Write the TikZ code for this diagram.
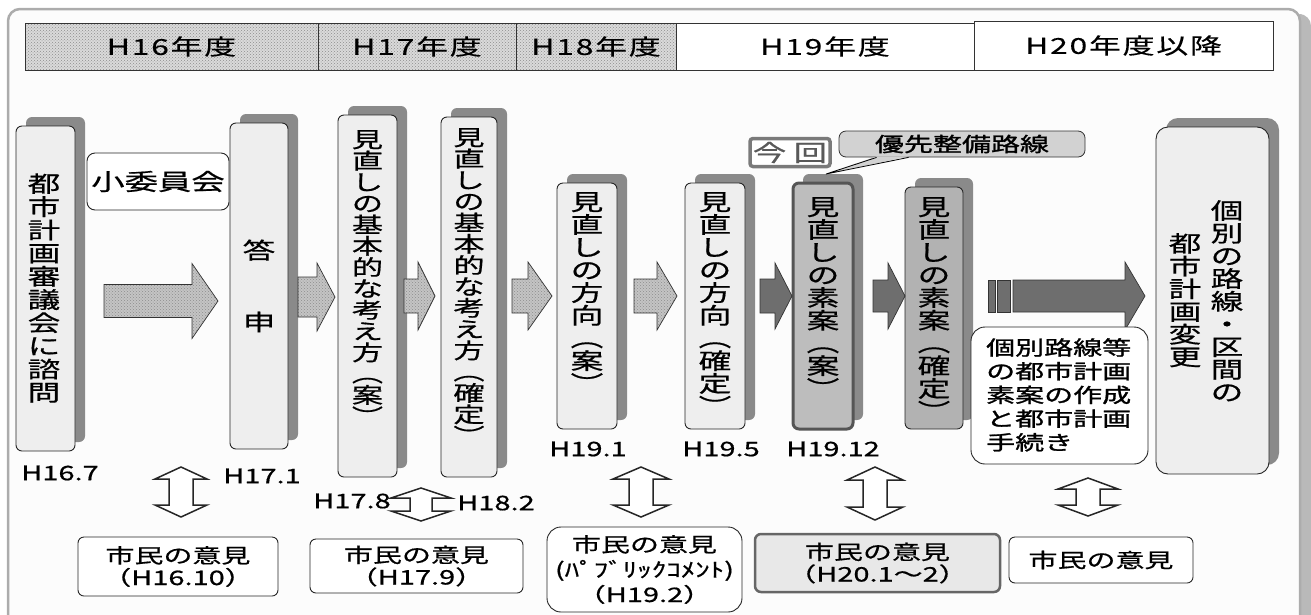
\documentclass[tikz,border=0pt]{standalone}
\usepackage{fontspec}
\usetikzlibrary{shadows,patterns,calc}
\newfontfamily\jp{Noto Sans CJK JP}[FakeStretch=1.45]
\newfontfamily\jpm{Noto Sans CJK JP}[FakeStretch=1.45,FakeBold=0.7]
\newfontfamily\jpb{Noto Sans CJK JP}[FakeStretch=1.45,FakeBold=1.3]
\newfontfamily\jph{Noto Sans CJK JP}[FakeStretch=1.45,LetterSpace=8,FakeBold=0.3]
\definecolor{bgc}{HTML}{FCFCFC}
\definecolor{boxfill}{HTML}{EEEEEE}
\definecolor{shadowc}{HTML}{8A8A8A}
\definecolor{hatchbg}{HTML}{DADADA}
\definecolor{hatchdot}{HTML}{8C8C8C}
\definecolor{darkarrow}{HTML}{6E6E6E}
\definecolor{keygray}{HTML}{BDBDBD}
\definecolor{keyedge}{HTML}{555555}
\definecolor{confgray}{HTML}{B2B2B2}
\definecolor{calloutc}{HTML}{D2D2D2}
\definecolor{opfill}{HTML}{E8E8E8}
\definecolor{opedge}{HTML}{666666}
\definecolor{konkai}{HTML}{7A7A7A}
\newcommand\tightlines{\lineskiplimit=-50pt\lineskip=0pt}
\newcommand\fhead{\jph\fontsize{22}{22}\selectfont}
\newcommand\fvert{\jpm\fontsize{22.5}{22.7}\selectfont\tightlines}
\newcommand\fvertA{\jpm\fontsize{22.5}{23.2}\selectfont\tightlines}
\newcommand\fvsmall{\jpm\fontsize{21.5}{21.3}\selectfont\tightlines}
\newcommand\flbl{\jpm\fontsize{20}{20}\selectfont}
\newcommand\fop{\jpm\fontsize{20}{22}\selectfont\tightlines}
\newcommand\fopw{\jpm\fontsize{20}{25}\selectfont\tightlines}
\newcommand\fproc{\jpb\fontsize{20}{23.7}\selectfont\tightlines}
\newcommand\fbold{\jpb\fontsize{20}{20}\selectfont}
\newcommand\fsub{\jpm\fontsize{23}{23}\selectfont}
\newcommand\barrow[6][]{\draw[#1] ($(#2)+(0,-#4)$) -- ($(#3)+(-#6,-#4)$) -- ($(#3)+(-#6,-#5)$) -- (#3) -- ($(#3)+(-#6,#5)$) -- ($(#3)+(-#6,#4)$) -- ($(#2)+(0,#4)$) -- cycle;}
\newcommand\udarrow[5]{\draw[dastyle] (#1) -- ($(#1)+(#3,#5)$) -- ($(#1)+(#4,#5)$) -- ($(#2)+(#4,-#5)$) -- ($(#2)+(#3,-#5)$) -- (#2) -- ($(#2)+(-#3,-#5)$) -- ($(#2)+(-#4,-#5)$) -- ($(#1)+(-#4,#5)$) -- ($(#1)+(-#3,#5)$) -- cycle;}
\begin{document}
\begin{tikzpicture}[x=1pt,y=-1pt,
  cell/.style={draw=black!80, line width=0.8pt, minimum height=47pt, inner sep=0pt, font=\fhead},
  hcell/.style={cell, preaction={fill=hatchbg}, pattern=crosshatch dots, pattern color=hatchdot},
  tall/.style={draw=black!85, line width=0.9pt, fill=boxfill, rounded corners=6pt, inner sep=0pt,
    drop shadow={shadow xshift=10pt, shadow yshift=9pt, fill=shadowc, opacity=1}},
  vtxt/.style={inner sep=0pt, align=center},
  lbl/.style={inner sep=0pt, font=\flbl},
  op/.style={draw=black!85, line width=0.9pt, fill=white, rounded corners=6pt, inner sep=0pt, align=center, font=\fop},
  hatcharrow/.style={draw=black!80, line width=0.7pt, preaction={fill=hatchbg!90!black}, pattern=crosshatch dots, pattern color=hatchdot},
  darkarrowst/.style={draw=black!80, line width=0.7pt, fill=darkarrow},
  dastyle/.style={draw=black!85, line width=1.5pt, fill=white, line join=miter}
]
\useasboundingbox (0,0) rectangle (1311,614);
% frame
\fill[gray!55, rounded corners=12pt] (1290,14) rectangle (1311,660);
\draw[draw=gray!65, line width=2.5pt, fill=bgc, rounded corners=12pt] (8,9) rectangle (1300,660);
% header
\node[hcell, minimum width=293pt] (h16) at (171.5,46.5) {H16年度};
\node[hcell, minimum width=198pt] (h17) at (417,46.5) {H17年度};
\node[hcell, minimum width=160pt] (h18) at (596,46.5) {H18年度};
\node[cell, fill=white, minimum width=298pt] (h19) at (825,46.5) {H19年度};
\node[cell, fill=white, minimum width=299pt, minimum height=49pt] (h20) at (1123.5,45.5) {H20年度以降};
% tall boxes
\node[tall, minimum width=59pt, minimum height=325pt] (b1) at (45.5,288.5) {};
\node[tall, minimum width=58pt, minimum height=326pt] (b2) at (259,286) {};
\node[tall, minimum width=59pt, minimum height=362pt] (b3) at (367.5,296) {};
\node[tall, minimum width=56pt, minimum height=360pt] (b4) at (469,297) {};
\node[tall, minimum width=60pt, minimum height=246pt] (b5) at (587,306) {};
\node[tall, minimum width=60pt, minimum height=246pt] (b6) at (715,306) {};
\node[tall, fill=keygray, draw=keyedge, line width=3pt, minimum width=60pt, minimum height=246pt] (b7) at (823,306) {};
\node[tall, fill=confgray, minimum width=58pt, minimum height=242pt] (b8) at (934,308) {};
\node[tall, minimum width=113pt, minimum height=347pt, rounded corners=12pt] (b9) at (1212.5,300.5) {};
% texts in tall boxes
\node[vtxt, font=\fvertA] (t1) at (44,288) {都\\市\\計\\画\\審\\議\\会\\に\\諮\\問};
\node[vtxt, font=\fvert] (t2) at (259,286) {答\\[49pt]申};
\node[vtxt, font=\fvsmall, anchor=north] (t3) at (367.5,130) {見\\直\\し\\の\\基\\本\\的\\な\\考\\え\\方\\︵\\案\\︶};
\node[vtxt, font=\fvsmall, anchor=north] (t4) at (469,128) {見\\直\\し\\の\\基\\本\\的\\な\\考\\え\\方\\︵\\確\\定\\︶};
\node[vtxt, font=\fvert, anchor=north] (t5) at (587,192) {見\\直\\し\\の\\方\\向\\︵\\案\\︶};
\node[vtxt, font=\fvert, anchor=north] (t6) at (715,192) {見\\直\\し\\の\\方\\向\\︵\\確\\定\\︶};
\node[vtxt, font=\fvert, anchor=north] (t7) at (823,197) {見\\直\\し\\の\\素\\案\\︵\\案\\︶};
\node[vtxt, font=\fvert, anchor=north] (t8) at (934,197) {見\\直\\し\\の\\素\\案\\︵\\確\\定\\︶};
\node[vtxt, font=\fvert, anchor=north] (t9a) at (1227,200) {個\\別\\の\\路\\線\\・\\区\\間\\の};
\node[vtxt, font=\fvert, anchor=north] (t9b) at (1185,233) {都\\市\\計\\画\\変\\更};
% small committee box
\node[draw=black!85, line width=0.9pt, fill=white, rounded corners=8pt, minimum width=142pt, minimum height=57pt, inner sep=0pt, font=\fsub] (sub) at (158,181.5) {小委員会};
% konkai and callout
\node[draw=konkai, line width=3.5pt, fill=white, rounded corners=3pt, minimum width=80pt, minimum height=28pt, inner sep=0pt, font=\fsub, text=black!65] (now) at (790,152.5) {今 回};
\node[draw=black!80, line width=0.8pt, fill=calloutc, rounded corners=7pt, minimum width=246pt, minimum height=26pt, inner sep=0pt, font=\fbold] (pri) at (962,144) {優先整備路線};
\coordinate (tip) at (826,174);
\fill[calloutc] ($(pri.south west)+(38,-1)$) -- (tip) -- ($(pri.south west)+(70,-1)$) -- cycle;
\draw[line width=0.8pt] ($(pri.south west)+(38,0)$) -- (tip) -- ($(pri.south west)+(70,0)$);
% block arrows
\coordinate (a1s) at (104,301); \coordinate (a1e) at (218,301);
\coordinate (a2s) at (298,297); \coordinate (a2e) at (335,297);
\coordinate (a3s) at (404,296); \coordinate (a3e) at (435,296);
\coordinate (a4s) at (512,296); \coordinate (a4e) at (552,296);
\coordinate (a5s) at (634,296); \coordinate (a5e) at (677,296);
\coordinate (a6s) at (760,296); \coordinate (a6e) at (792,296);
\coordinate (a7s) at (873,296); \coordinate (a7e) at (905,296);
\coordinate (a8s) at (1013,296); \coordinate (a8e) at (1145,296);
\barrow[hatcharrow]{a1s}{a1e}{16.5}{37.5}{26}
\barrow[hatcharrow]{a2s}{a2e}{20}{34}{18}
\barrow[hatcharrow]{a3s}{a3e}{17}{34}{17}
\barrow[hatcharrow]{a4s}{a4e}{17}{34}{24}
\barrow[hatcharrow]{a5s}{a5e}{17}{34}{20}
\barrow[darkarrowst]{a6s}{a6e}{17}{33}{17}
\barrow[darkarrowst]{a7s}{a7e}{16}{33}{17}
\barrow[darkarrowst]{a8s}{a8e}{16}{34}{20}
\draw[darkarrowst] (988,280) rectangle (995,312);
\draw[darkarrowst] (997,280) rectangle (1010,312);
% process box
\node[draw=black!85, line width=0.9pt, fill=white, rounded corners=14pt, minimum width=177pt, minimum height=137pt, inner sep=0pt] (proc) at (1059.5,395.5) {};
\node[inner sep=0pt, align=left, font=\fproc, anchor=north west] (proct) at (986,338) {個別路線等\\の都市計画\\素案の作成\\と都市計画\\手続き};
% date labels
\node[lbl] (l1) at (60,473) {H16.7};
\node[lbl] (l2) at (262,476) {H17.1};
\node[lbl] (l3) at (352,501) {H17.8};
\node[lbl] (l4) at (496,503) {H18.2};
\node[lbl] (l5) at (588,449) {H19.1};
\node[lbl] (l6) at (721,449) {H19.5};
\node[lbl] (l7) at (833,449) {H19.12};
% opinion boxes
\node[op, minimum width=200pt, minimum height=59pt] (o1) at (178,566.5) {市民の意見\\（H16.10）};
\node[op, minimum width=213pt, minimum height=54pt] (o2) at (416.5,566) {市民の意見\\（H17.9）};
\node[op, minimum width=195pt, minimum height=85pt, rounded corners=14pt, font=\fopw] (o3) at (644.5,569.5) {市民の意見\\{\fontsize{20}{25}\selectfont (ﾊﾟﾌﾞﾘｯｸｺﾒﾝﾄ)}\\（H19.2）};
\node[op, fill=opfill, draw=opedge, line width=2.5pt, minimum width=245pt, minimum height=58pt] (o4) at (877.5,563) {市民の意見\\（H20.1～2）};
\node[op, minimum width=184pt, minimum height=46pt] (o5) at (1101,560) {市民の意見};
% up-down arrows
\coordinate (d1t) at (181,467); \coordinate (d1b) at (181,517);
\coordinate (d2t) at (421,488); \coordinate (d2b) at (421,521);
\coordinate (d3t) at (641,467); \coordinate (d3b) at (641,517);
\coordinate (d4t) at (875,467); \coordinate (d4b) at (875,520);
\coordinate (d5t) at (1088,478); \coordinate (d5b) at (1088,516);
\udarrow{d1t}{d1b}{26}{12}{12}
\udarrow{d2t}{d2b}{30}{11}{10}
\udarrow{d3t}{d3b}{28}{12}{12}
\udarrow{d4t}{d4b}{28}{12}{13}
\udarrow{d5t}{d5b}{30}{12}{11}
\end{tikzpicture}
\end{document}
